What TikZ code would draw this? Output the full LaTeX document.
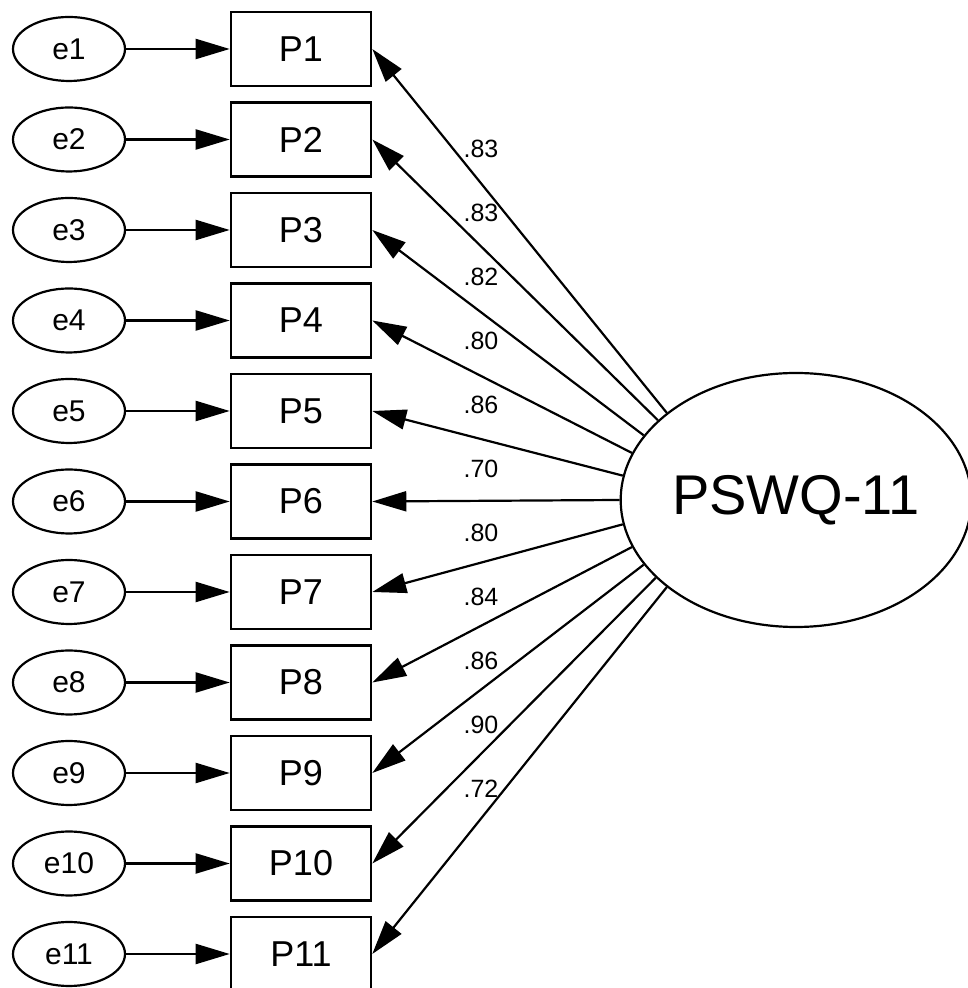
\documentclass[tikz,border=0pt]{standalone}
\usepackage{fontspec}
\setmainfont{Liberation Sans}
\usetikzlibrary{arrows.meta,shapes.geometric}

\tikzset{
  obs/.style={draw, line width=2.6pt, minimum width=140pt, minimum height=74pt, inner sep=0pt, font=\fontsize{36}{38}\selectfont},
  err/.style={draw, ellipse, line width=2.2pt, minimum width=112pt, minimum height=64pt, inner sep=0pt, font=\fontsize{30}{32}\selectfont},
  arr/.style={line width=2.2pt, -{Triangle[length=34pt,width=20pt]}},
  est/.style={font=\fontsize{25}{27}\selectfont, inner sep=0pt}
}

\begin{document}
\begin{tikzpicture}[x=1pt,y=1pt]
\useasboundingbox (0,0) rectangle (968,988);

\node[draw, ellipse, line width=2.2pt, minimum width=342pt, minimum height=254pt, inner sep=0pt, font=\fontsize{56}{58}\selectfont] (pswq) at (796,488) {PSWQ-11};

\foreach \i in {1,...,11} {
	\node[err] (e\i) at (69,{939-90.5*(\i-1)}) {e\i};
	\node[obs] (p\i) at (301,{939-90.5*(\i-1)}) {P\i};
	\draw[arr] (e\i) -- (p\i);
}

\foreach \i/\a/\v in {1/146/.83, 2/150.5/.83, 3/157/.82, 4/164/.80, 5/172.5/.86, 6/180/.70, 7/188/.80, 8/196/.84, 9/203/.86, 10/209.5/.90, 11/214.5/.72} {
	\draw[arr] (pswq.\a) -- (p\i.east);
	\node[est] (l\i) at (481,{839-64*(\i-1)}) {\v};
}
\end{tikzpicture}
\end{document}
